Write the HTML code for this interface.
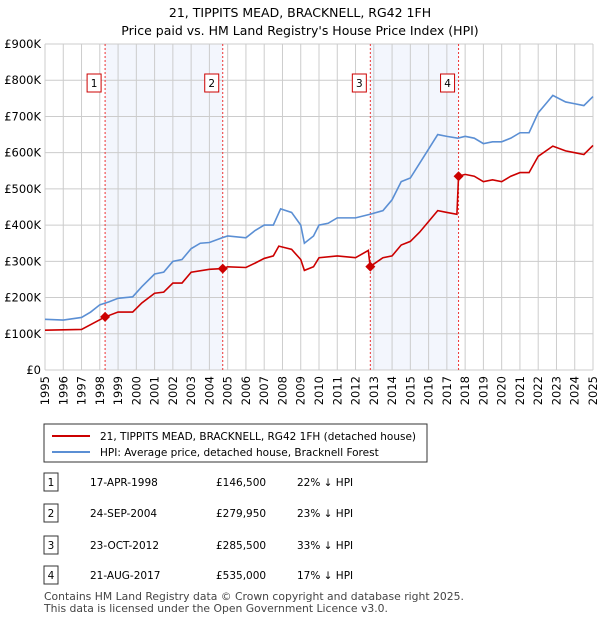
<!DOCTYPE html>
<html><head><meta charset="utf-8">
<style>
body{margin:0;background:#fff;font-family:"Liberation Sans","DejaVu Sans",sans-serif;}
svg text{font-family:"DejaVu Sans","Liberation Sans",sans-serif;}
</style></head>
<body>
<svg width="600" height="620" xmlns="http://www.w3.org/2000/svg" id="chart">
<text x="300" y="17" text-anchor="middle" font-size="12.5">21, TIPPITS MEAD, BRACKNELL, RG42 1FH</text>
<text x="300" y="35" text-anchor="middle" font-size="12.5">Price paid vs. HM Land Registry's House Price Index (HPI)</text>
<g id="plot"></g>
<g>
<rect x="44" y="424" width="383" height="38" fill="#fff" stroke="#333" stroke-width="1"/>
<line x1="52" y1="436" x2="90" y2="436" stroke="#cc0000" stroke-width="2"/>
<text x="100" y="440" font-size="10.5">21, TIPPITS MEAD, BRACKNELL, RG42 1FH (detached house)</text>
<line x1="52" y1="452" x2="90" y2="452" stroke="#5b8fd4" stroke-width="2"/>
<text x="100" y="456" font-size="10.5">HPI: Average price, detached house, Bracknell Forest</text>
</g>
<g id="table"></g>
<text x="44" y="600" font-size="10.8" fill="#444">Contains HM Land Registry data © Crown copyright and database right 2025.</text>
<text x="44" y="612" font-size="10.8" fill="#444">This data is licensed under the Open Government Licence v3.0.</text>
</svg>
<script>
const hpiYears=[1995,1996,1997,1997.5,1998,1998.5,1999,1999.8,2000.3,2001,2001.5,2002,2002.5,2003,2003.5,2004,2004.7,2005,2006,2006.5,2007,2007.5,2007.9,2008.5,2009,2009.2,2009.7,2010,2010.5,2011,2012,2012.8,2013.5,2014,2014.5,2015,2015.5,2016,2016.5,2017,2017.6,2018,2018.5,2019,2019.5,2020,2020.5,2021,2021.5,2022,2022.5,2022.8,2023.5,2024,2024.5,2025];
const hpiValues=[140,138,145,160,180,188,198,202,230,265,270,300,305,335,350,352,365,370,365,385,400,400,445,435,400,350,370,400,405,420,420,430,440,470,520,530,570,610,650,645,640,645,640,625,630,630,640,655,655,710,740,758,740,735,730,755];
const priceYears=[1995,1997,1998.29,1999,1999.8,2000.3,2001,2001.5,2002,2002.5,2003,2004,2004.73,2005,2006,2006.5,2007,2007.5,2007.8,2008.5,2009,2009.2,2009.7,2010,2011,2012,2012.7,2012.8,2013.5,2014,2014.5,2015,2015.5,2016,2016.5,2017,2017.55,2017.64,2018,2018.5,2019,2019.5,2020,2020.5,2021,2021.5,2022,2022.8,2023.5,2024,2024.5,2025];
const priceValues=[110,112,146.5,160,160,185,212,215,240,240,270,278,280,285,283,295,308,315,342,333,305,275,285,310,315,310,330,285.5,310,315,345,355,380,410,440,435,430,535,540,535,520,525,520,535,545,545,590,618,605,600,595,620];
const saleYears=[1998.29,2004.73,2012.81,2017.64];
const saleValues=[146.5,279.95,285.5,535];
const saleLabels=["1","2","3","4"];
const saleDates=["17-APR-1998","24-SEP-2004","23-OCT-2012","21-AUG-2017"];
const salePrices=["£146,500","£279,950","£285,500","£535,000"];
const saleHpi=["22% ↓ HPI","23% ↓ HPI","33% ↓ HPI","17% ↓ HPI"];
const yTicks=[0,100,200,300,400,500,600,700,800,900];
const yTickLabels=["£0","£100K","£200K","£300K","£400K","£500K","£600K","£700K","£800K","£900K"];
const xTicks=[1995,1996,1997,1998,1999,2000,2001,2002,2003,2004,2005,2006,2007,2008,2009,2010,2011,2012,2013,2014,2015,2016,2017,2018,2019,2020,2021,2022,2023,2024,2025];

const NS="http://www.w3.org/2000/svg";
const X0=45,X1=593,Y0=370,Y1=44;
const x=v=>X0+(v-1995)/(2025-1995)*(X1-X0);
const y=v=>Y0-v/900*(Y0-Y1);
function mk(parent,tag,attrs,text){const e=document.createElementNS(NS,tag);for(const k in attrs)e.setAttribute(k,attrs[k]);if(text!==undefined)e.textContent=text;parent.appendChild(e);return e;}
const plot=document.getElementById('plot');
for(let i=0;i<2;i++){
  const r=mk(plot,'rect',{x:x(saleYears[2*i]),y:Y1,width:x(saleYears[2*i+1])-x(saleYears[2*i]),height:Y0-Y1,fill:'#f3f6fd'});
  
  
}
xTicks.forEach(t=>{
  const l=mk(plot,'line',{x1:x(t),x2:x(t),y1:Y1,y2:Y0,stroke:'#ccc','stroke-width':1});
  
  
  const tx=mk(plot,'text',{x:0,y:0,'font-size':11.5,'text-anchor':'end',transform:`translate(${x(t)+4},${Y0+6}) rotate(-90)`},String(t));
  
  
});
yTicks.forEach((t,i)=>{
  const l=mk(plot,'line',{x1:X0,x2:X1,y1:y(t),y2:y(t),stroke:'#ccc','stroke-width':1});
  
  
  const tx=mk(plot,'text',{x:X0-4,y:y(t)+4,'font-size':11.5,'text-anchor':'end'},yTickLabels[i]);
  
  
});
saleYears.forEach((s,i)=>{
  const l=mk(plot,'line',{x1:x(s),x2:x(s),y1:Y1,y2:Y0,stroke:'#e33','stroke-width':1,'stroke-dasharray':'2,2'});
  
  
  const b=mk(plot,'rect',{x:x(s)-18,y:74,width:14,height:18,fill:'#fff',stroke:'#cc0000'});
  
  
  const t=mk(plot,'text',{x:x(s)-11,y:87,'font-size':10.5,'text-anchor':'middle'},saleLabels[i]);
  
  
});
const hp=mk(plot,'polyline',{points:hpiYears.map((v,i)=>x(v)+','+y(hpiValues[i])).join(' '),fill:'none',stroke:'#5b8fd4','stroke-width':1.6});


const pp=mk(plot,'polyline',{points:priceYears.map((v,i)=>x(v)+','+y(priceValues[i])).join(' '),fill:'none',stroke:'#cc0000','stroke-width':1.6});


saleYears.forEach((s,i)=>{
  const cx=x(s),cy=y(saleValues[i]);
  const d=mk(plot,'polygon',{points:`${cx},${cy-5} ${cx+5},${cy} ${cx},${cy+5} ${cx-5},${cy}`,fill:'#cc0000'});
  
  
});
const table=document.getElementById('table');
const rowY=[482,513,545,575];
saleLabels.forEach((lab,i)=>{
  const r=rowY[i];
  const b=mk(table,'rect',{x:44,y:r-9,width:14,height:18,fill:'#fff',stroke:'#333'});
  
  
  const t=mk(table,'text',{x:51,y:r+4,'font-size':10.5,'text-anchor':'middle'},lab);
  
  
  const d=mk(table,'text',{x:90,y:r+4,'font-size':10.5},saleDates[i]);
  
  
  const p=mk(table,'text',{x:216,y:r+4,'font-size':10.5},salePrices[i]);
  
  
  const h=mk(table,'text',{x:297,y:r+4,'font-size':10.5},saleHpi[i]);
  
  
});
</script>
</body></html>
